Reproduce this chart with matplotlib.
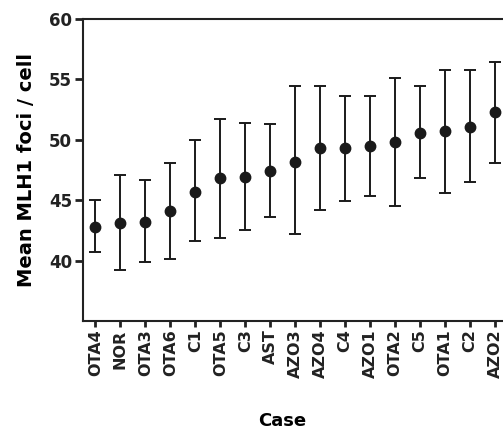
import numpy as np
import matplotlib
matplotlib.use("Agg")
import matplotlib.pyplot as plt

cases = ['OTA4', 'NOR', 'OTA3', 'OTA6', 'C1', 'OTA5', 'C3', 'AST', 'AZO3',
         'AZO4', 'C4', 'AZO1', 'OTA2', 'C5', 'OTA1', 'C2', 'AZO2']
means = [42.8, 43.1, 43.2, 44.1, 45.7, 46.8, 46.9, 47.4, 48.2,
         49.3, 49.3, 49.5, 49.8, 50.6, 50.7, 51.1, 52.3]
upper = [45.0, 47.1, 46.7, 48.1, 49.95, 51.7, 51.4, 51.3, 54.45,
         54.45, 53.65, 53.65, 55.1, 54.45, 55.75, 55.75, 56.45]
lower = [40.75, 39.2, 39.85, 40.1, 41.65, 41.9, 42.55, 43.65, 42.2,
         44.15, 44.95, 45.35, 44.55, 46.8, 45.6, 46.5, 48.1]

plt.rcParams['font.family'] = ['DejaVu Sans']

fig = plt.figure(figsize=(5.03, 4.34), dpi=100)
ax = fig.add_axes([0.165, 0.2604, 0.835, 0.6958])

x = np.arange(len(cases))
m = np.array(means)
yerr = [m - np.array(lower), np.array(upper) - m]
ax.errorbar(x, m, yerr=yerr, fmt='o', color='#1a1a1a', markersize=7.5,
            elinewidth=1.4, capsize=4.3, capthick=1.4)

ax.set_xlim(-0.5, 16.32)
ax.set_ylim(35, 60)
ax.set_yticks([40, 45, 50, 55, 60])
ax.set_xticks(x)
ax.set_xticklabels(cases, rotation=90, fontsize=11.5, fontweight='bold')

for lab in ax.get_yticklabels():
    lab.set_fontsize(12)
    lab.set_fontweight('bold')

ax.spines['right'].set_visible(False)
for s in ['left', 'bottom', 'top']:
    ax.spines[s].set_linewidth(1.5)
    ax.spines[s].set_color('#222222')

ax.tick_params(axis='y', direction='out', length=6, width=2, pad=2, colors='#222222')
ax.tick_params(axis='x', direction='out', length=4, width=2, pad=2, colors='#222222')

ax.set_ylabel('Mean MLH1 foci / cell', fontsize=14, fontweight='bold')
ax.yaxis.set_label_coords(-0.112, 0.5)
ax.set_xlabel('Case', fontsize=13, fontweight='bold')
ax.xaxis.set_label_coords(0.474, -0.3)

fig.savefig('out.png', dpi=100)
